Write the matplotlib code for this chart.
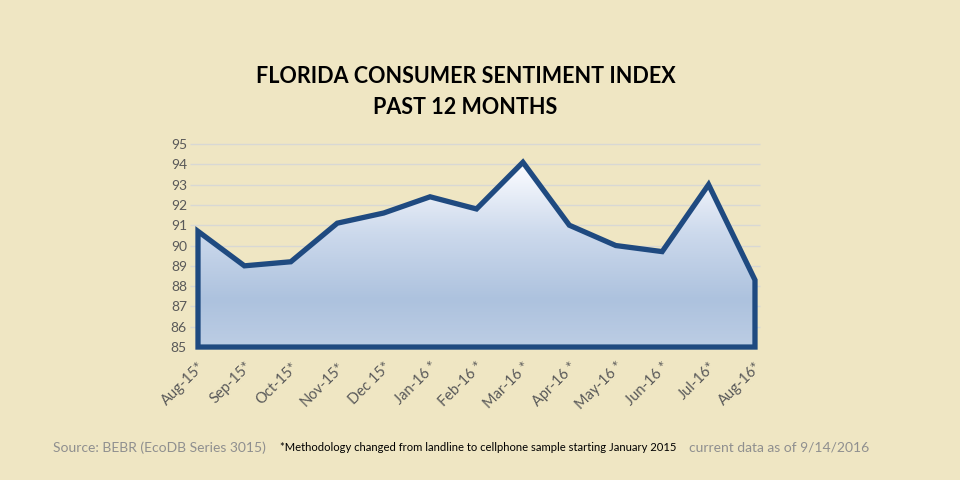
import numpy as np
import matplotlib
matplotlib.use("Agg")
import matplotlib.pyplot as plt
from matplotlib.colors import LinearSegmentedColormap
from matplotlib.patches import Polygon

months = ["Aug-15*", "Sep-15*", "Oct-15*", "Nov-15*", "Dec 15*", "Jan-16 *", "Feb-16 *",
          "Mar-16 *", "Apr-16 *", "May-16 *", "Jun-16 *", "Jul-16*", "Aug-16*"]
index_values = [90.7, 89.0, 89.2, 91.1, 91.6, 92.4, 91.8, 94.1, 91.0, 90.0, 89.7, 93.0, 88.3]
y_ticks = [85, 86, 87, 88, 89, 90, 91, 92, 93, 94, 95]

bg = "#efe6c3"
line_col = "#1f4a80"
plt.rcParams["font.family"] = ["Lato", "DejaVu Sans"]

fig = plt.figure(figsize=(9.6, 4.8), dpi=100, facecolor=bg)
ax = fig.add_axes([0.20625, 0.277, 0.5802, 0.423])
ax.set_facecolor(bg)

x = np.arange(len(months))
ymin, ymax = 85, 95
ax.set_xlim(0, len(months) - 1)
ax.set_ylim(ymin, ymax)

# gridlines
ax.hlines(y_ticks[1:], -0.17, 12.1, colors="#d8d8d4", linewidth=1.0, zorder=0, clip_on=False)

# gradient fill under the line
cmap = LinearSegmentedColormap.from_list(
    "grad", [(0.0, "#bccde4"), (0.25, "#adc2de"), (0.6, "#ccd9ec"), (0.9, "#f3f6fc"), (1.0, "#ffffff")])
grad = np.linspace(0, 1, 256).reshape(-1, 1)
img = ax.imshow(grad, extent=[0, len(months) - 1, ymin, 94.3], origin="lower",
                aspect="auto", cmap=cmap, zorder=1)
verts = [(0, ymin)] + list(zip(x, index_values)) + [(len(months) - 1, ymin)]
poly = Polygon(verts, closed=True, facecolor="none", edgecolor=line_col,
               linewidth=3.8, joinstyle="miter", zorder=3, clip_on=False)
ax.add_patch(poly)
img.set_clip_path(poly)

for s in ax.spines.values():
    s.set_visible(False)
ax.set_yticks(y_ticks)
ax.set_xticks(x)
ax.set_xticklabels(months, rotation=45, ha="right", va="top", rotation_mode="anchor",
                   fontsize=10.5, color="#595959")
ax.tick_params(axis="both", length=0, colors="#595959")
ax.tick_params(axis="y", labelsize=10, pad=8)
ax.tick_params(axis="x", pad=9)

fig.text(0.485, 0.808, "FLORIDA CONSUMER SENTIMENT INDEX\nPAST 12 MONTHS", ha="center", va="center",
         fontsize=15.5, fontweight="bold", color="black", linespacing=1.55)

fig.text(0.055, 0.067, "Source: BEBR (EcoDB Series 3015)", fontsize=10, color="#8f8f8f", va="center")
fig.text(0.292, 0.067, "*Methodology changed from landline to cellphone sample starting January 2015",
         fontsize=8.1, color="black", va="center")
fig.text(0.718, 0.067, "current data as of 9/14/2016", fontsize=10, color="#8f8f8f", va="center")

fig.savefig("out.png", dpi=100, facecolor=bg)
